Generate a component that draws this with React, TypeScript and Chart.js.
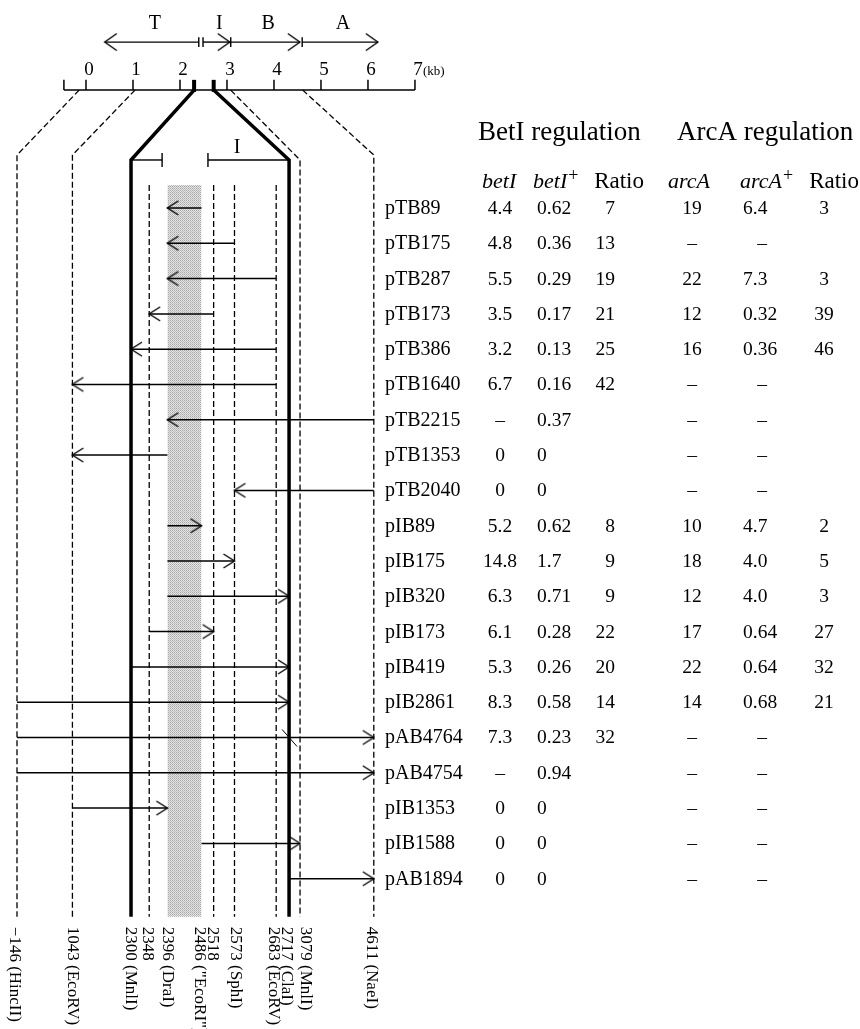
import React, { useEffect, useRef } from "react";
import { Chart, registerables } from "chart.js";

Chart.register(...registerables);

// ---------------- data ----------------
const constructs = [
  "pTB89", "pTB175", "pTB287", "pTB173", "pTB386", "pTB1640", "pTB2215", "pTB1353", "pTB2040",
  "pIB89", "pIB175", "pIB320", "pIB173", "pIB419", "pIB2861", "pAB4764", "pAB4754",
  "pIB1353", "pIB1588", "pAB1894",
];
// fragment start / end (bp); arrow points from start to end
const fragStart = [2486, 2573, 2683, 2518, 2683, 2683, 4611, 2396, 4611, 2396, 2396, 2396, 2348, 2300, -146, -146, -146, 1043, 2486, 2717];
const fragEnd = [2396, 2396, 2396, 2348, 2300, 1043, 2396, 1043, 2573, 2486, 2573, 2717, 2518, 2717, 2717, 4611, 4611, 2396, 3079, 4611];

const betIMinus = ["4.4", "4.8", "5.5", "3.5", "3.2", "6.7", "–", "0", "0", "5.2", "14.8", "6.3", "6.1", "5.3", "8.3", "7.3", "–", "0", "0", "0"];
const betIPlus = ["0.62", "0.36", "0.29", "0.17", "0.13", "0.16", "0.37", "0", "0", "0.62", "1.7", "0.71", "0.28", "0.26", "0.58", "0.23", "0.94", "0", "0", "0"];
const betIRatio = ["7", "13", "19", "21", "25", "42", "", "", "", "8", "9", "9", "22", "20", "14", "32", "", "", "", ""];
const arcAMinus = ["19", "–", "22", "12", "16", "–", "–", "–", "–", "10", "18", "12", "17", "22", "14", "–", "–", "–", "–", "–"];
const arcAPlus = ["6.4", "–", "7.3", "0.32", "0.36", "–", "–", "–", "–", "4.7", "4.0", "4.0", "0.64", "0.64", "0.68", "–", "–", "–", "–", "–"];
const arcARatio = ["3", "", "3", "39", "46", "", "", "", "", "2", "5", "3", "27", "32", "21", "", "", "", "", ""];

// restriction sites (bp)
const siteBp = [-146, 1043, 2300, 2348, 2396, 2486, 2518, 2573, 2683, 2717, 3079, 4611];
const siteLabel = ["−146 (HincII)", "1043 (EcoRV)", "2300 (MnlI)", "2348", "2396 (DraI)", "2486 (\"EcoRI\")", "2518", "2573 (SphI)", "2683 (EcoRV)", "2717 (ClaI)", "3079 (MnlI)", "4611 (NaeI)"];
const outerSites = [-146, 1043, 3079, 4611];
const thickSites = [2300, 2717];
const innerSites = [2348, 2518, 2573, 2683];
const shadedFrom = 2396;
const shadedTo = 2486;

// overview map (kb)
const kbTicks = [0, 1, 2, 3, 4, 5, 6, 7];
const kbScaleStart = -0.47;
const kbMarks = [2.3, 2.717];
const regionLabels = ["T", "I", "B", "A"];
const regionFrom = [2.4, 2.49, 3.08, 4.6];
const regionTo = [0.4, 3.06, 4.55, 6.21];
const regionBars = [2.4, 2.49, 3.08, 4.6];

// betI bracket (bp)
const betIBracketLeft = [2300, 2382];
const betIBracketRight = [2503, 2717];
const betIBracketLabelAt = 2580;

// ---------------- layout (axis units) ----------------
const SERIF = '"Liberation Serif", "Times New Roman", serif';
const X_MIN = 1954.3;
const X_MAX = 4223.4;
const Y_MIN = -5.892;
const Y_MAX = 23.258;
const Y_REGION = -4.7;
const Y_TICKTOP = -3.63;
const Y_SCALE = -3.34;
const Y_OUTER_BEND = -1.5;
const Y_THICK_BEND = -1.36;
const Y_INNER_TOP = -0.65;
const Y_BOTTOM = 20.08;
const BAR_H = 0.14;
const BRACKET_H = 0.2;

// broken axis: detail window 2300-2717 at full scale, compressed outside
function bpToU(bp: number): number {
  if (bp < 2300) return 2300 - (2300 - bp) * 0.123;
  if (bp <= 2717) return bp;
  if (bp <= 3079) return 2717 + (bp - 2717) * 0.08;
  return 2746 + (bp - 3079) * 0.127;
}
// overview kb scale
function kbToU(kb: number): number {
  return 2181.2 + kb * 124.0;
}

function makeChevron(len: number, half: number, lw: number): HTMLCanvasElement {
  const size = Math.ceil(Math.max(len, half) * 2 + 6);
  const c = document.createElement("canvas");
  c.width = size;
  c.height = size;
  const g = c.getContext("2d")!;
  const cx = size / 2;
  const cy = size / 2;
  g.strokeStyle = "#000";
  g.lineWidth = lw;
  g.lineCap = "butt";
  g.beginPath();
  g.moveTo(cx - len, cy - half);
  g.lineTo(cx, cy);
  g.lineTo(cx - len, cy + half);
  g.stroke();
  return c;
}

function makeStipple(ctx: CanvasRenderingContext2D): CanvasPattern | string {
  const c = document.createElement("canvas");
  c.width = 2;
  c.height = 2;
  const g = c.getContext("2d")!;
  g.fillStyle = "#e4e4e4";
  g.fillRect(0, 0, 2, 2);
  g.fillStyle = "#a8a8a8";
  g.fillRect(0, 0, 1, 1);
  g.fillStyle = "#bebebe";
  g.fillRect(1, 1, 1, 1);
  return ctx.createPattern(c, "repeat") || "#cccccc";
}

const seg = (pts: { x: number; y: number }[], opts: any = {}) => ({
  type: "scatter" as const,
  data: pts,
  showLine: true,
  borderColor: "#000",
  backgroundColor: "#000",
  borderWidth: 1.4,
  pointRadius: 0,
  pointHoverRadius: 0,
  fill: false,
  tension: 0,
  clip: false,
  ...opts,
});

const textPlugin = {
  id: "diagramText",
  beforeDraw(chart: any) {
    const { ctx, width, height } = chart;
    ctx.save();
    ctx.fillStyle = "#fff";
    ctx.fillRect(0, 0, width, height);
    ctx.restore();
  },
  afterDatasetsDraw(chart: any) {
    const { ctx } = chart;
    const xs = chart.scales.x;
    const ys = chart.scales.y;
    const px = (bp: number) => xs.getPixelForValue(bpToU(bp));
    const pk = (kb: number) => xs.getPixelForValue(kbToU(kb));
    const py = (r: number) => ys.getPixelForValue(r);
    ctx.save();
    ctx.fillStyle = "#000";
    ctx.textBaseline = "alphabetic";

    // region labels
    ctx.font = `20px ${SERIF}`;
    ctx.textAlign = "center";
    regionLabels.forEach((l, i) => {
      ctx.fillText(l, pk((regionFrom[i] + regionTo[i]) / 2) + 3, py(Y_REGION) - 13);
    });

    // kb tick labels
    ctx.font = `19px ${SERIF}`;
    kbTicks.forEach((k) => ctx.fillText(String(k), pk(k) + 3, py(Y_SCALE) - 15));
    ctx.font = `13px ${SERIF}`;
    ctx.textAlign = "left";
    ctx.fillText("(kb)", pk(7) + 8, py(Y_SCALE) - 15);

    // betI bracket label
    ctx.font = `20px ${SERIF}`;
    ctx.textAlign = "center";
    ctx.fillText("I", px(betIBracketLabelAt), py(Y_THICK_BEND) - 7);

    // break mark on pAB4764
    ctx.strokeStyle = "#000";
    ctx.lineWidth = 1;
    ctx.beginPath();
    const bx = px(2717);
    const by = py(15);
    ctx.moveTo(bx - 7, by - 8);
    ctx.lineTo(bx + 8, by + 9);
    ctx.stroke();

    // headers
    ctx.textAlign = "left";
    ctx.font = `27px ${SERIF}`;
    ctx.fillText("BetI regulation", 478, 140);
    ctx.fillText("ArcA regulation", 677, 140);

    const sub = (base: string, x: number, y: number, sup: boolean) => {
      ctx.font = `italic 22px ${SERIF}`;
      ctx.textAlign = "left";
      ctx.fillText(base, x, y);
      if (sup) {
        const w = ctx.measureText(base).width;
        ctx.font = `18px ${SERIF}`;
        ctx.fillText("+", x + w + 1, y - 7);
      }
    };
    sub("betI", 482, 188, false);
    sub("betI", 533, 188, true);
    sub("arcA", 668, 188, false);
    sub("arcA", 740, 188, true);
    ctx.font = `23px ${SERIF}`;
    ctx.textAlign = "right";
    ctx.fillText("Ratio", 644, 188);
    ctx.fillText("Ratio", 859, 188);

    // rows
    constructs.forEach((name, i) => {
      const y = py(i) + 6;
      ctx.font = `20px ${SERIF}`;
      ctx.textAlign = "left";
      ctx.fillText(name, 385, y);
      ctx.font = `19.5px ${SERIF}`;
      ctx.textAlign = "center";
      ctx.fillText(betIMinus[i], 500, y);
      if (betIPlus[i] === "–") {
        ctx.fillText("–", 552, y);
      } else {
        ctx.textAlign = "left";
        ctx.fillText(betIPlus[i], 537, y);
      }
      ctx.textAlign = "right";
      if (betIRatio[i]) ctx.fillText(betIRatio[i], 615, y);
      ctx.textAlign = "center";
      ctx.fillText(arcAMinus[i], 692, y);
      if (arcAPlus[i] === "–") {
        ctx.fillText("–", 762, y);
      } else {
        ctx.textAlign = "left";
        ctx.fillText(arcAPlus[i], 743, y);
      }
      ctx.textAlign = "center";
      if (arcARatio[i]) ctx.fillText(arcARatio[i], 824, y);
    });

    // site labels (rotated)
    ctx.font = `17px ${SERIF}`;
    ctx.textAlign = "left";
    ctx.textBaseline = "middle";
    const nudge = [-3, 0, -1, -2, 0, -2, -1, 1, -3, -3, 5, -2];
    siteBp.forEach((bp, i) => {
      ctx.save();
      ctx.translate(px(bp) + nudge[i], py(Y_BOTTOM) + 10);
      ctx.rotate(Math.PI / 2);
      ctx.fillText(siteLabel[i], 0, 0);
      ctx.restore();
    });
    ctx.restore();
  },
};

export default function App() {
  const ref = useRef<HTMLCanvasElement>(null);
  useEffect(() => {
    const canvas = ref.current!;
    const ctx2d = canvas.getContext("2d")!;
    const chevSmall = makeChevron(11, 7, 1.4);
    const chevBig = makeChevron(12, 8.5, 1.4);
    const stipple = makeStipple(ctx2d);

    const datasets: any[] = [];

    // shaded region
    datasets.push(
      seg(
        [
          { x: bpToU(shadedFrom), y: Y_INNER_TOP },
          { x: bpToU(shadedTo), y: Y_INNER_TOP },
        ],
        { borderWidth: 0, borderColor: "rgba(0,0,0,0)", fill: { value: Y_BOTTOM }, backgroundColor: stipple, order: 10 }
      )
    );

    // overview scale
    datasets.push(seg([{ x: kbToU(kbScaleStart), y: Y_SCALE }, { x: kbToU(7), y: Y_SCALE }], { borderWidth: 1.5 }));
    [kbScaleStart, ...kbTicks].forEach((k) =>
      datasets.push(seg([{ x: kbToU(k), y: Y_SCALE }, { x: kbToU(k), y: Y_TICKTOP }], { borderWidth: 1.5 }))
    );
    kbMarks.forEach((k) =>
      datasets.push(seg([{ x: kbToU(k), y: Y_SCALE + 0.05 }, { x: kbToU(k), y: Y_TICKTOP }], { borderWidth: 4 }))
    );

    // region arrows
    regionLabels.forEach((_, i) => {
      datasets.push(
        seg(
          [
            { x: kbToU(regionFrom[i]), y: Y_REGION },
            { x: kbToU(regionTo[i]), y: Y_REGION },
          ],
          {
            borderWidth: 1.4,
            pointStyle: ["circle", chevBig],
            pointRadius: [0, 6],
            rotation: regionTo[i] < regionFrom[i] ? 180 : 0,
          }
        )
      );
    });
    regionBars.forEach((k) =>
      datasets.push(seg([{ x: kbToU(k), y: Y_REGION - BAR_H }, { x: kbToU(k), y: Y_REGION + BAR_H }], { borderWidth: 1.4 }))
    );

    // connectors + vertical site lines
    outerSites.forEach((bp) => {
      const bend = bp === 3079 ? Y_THICK_BEND : Y_OUTER_BEND;
      datasets.push(
        seg(
          [
            { x: kbToU(bp / 1000), y: Y_SCALE },
            { x: bpToU(bp), y: bend },
            { x: bpToU(bp), y: Y_BOTTOM },
          ],
          { borderWidth: 1.3, borderDash: [6, 3] }
        )
      );
    });
    thickSites.forEach((bp) => {
      datasets.push(
        seg(
          [
            { x: kbToU(bp / 1000), y: Y_SCALE },
            { x: bpToU(bp), y: Y_THICK_BEND },
            { x: bpToU(bp), y: Y_BOTTOM },
          ],
          { borderWidth: 3.5, borderJoinStyle: "miter" }
        )
      );
    });
    innerSites.forEach((bp) => {
      datasets.push(
        seg(
          [
            { x: bpToU(bp), y: Y_INNER_TOP },
            { x: bpToU(bp), y: Y_BOTTOM },
          ],
          { borderWidth: 1.3, borderDash: [6, 3] }
        )
      );
    });

    // betI bracket
    datasets.push(seg([{ x: bpToU(betIBracketLeft[0]), y: Y_THICK_BEND }, { x: bpToU(betIBracketLeft[1]), y: Y_THICK_BEND }], { borderWidth: 1.4 }));
    datasets.push(seg([{ x: bpToU(betIBracketLeft[1]), y: Y_THICK_BEND - BRACKET_H }, { x: bpToU(betIBracketLeft[1]), y: Y_THICK_BEND + BRACKET_H }], { borderWidth: 1.4 }));
    datasets.push(seg([{ x: bpToU(betIBracketRight[0]), y: Y_THICK_BEND }, { x: bpToU(betIBracketRight[1]), y: Y_THICK_BEND }], { borderWidth: 1.4 }));
    datasets.push(seg([{ x: bpToU(betIBracketRight[0]), y: Y_THICK_BEND - BRACKET_H }, { x: bpToU(betIBracketRight[0]), y: Y_THICK_BEND + BRACKET_H }], { borderWidth: 1.4 }));

    // construct arrows
    constructs.forEach((_, i) => {
      datasets.push(
        seg(
          [
            { x: bpToU(fragStart[i]), y: i },
            { x: bpToU(fragEnd[i]), y: i },
          ],
          {
            borderWidth: 1.5,
            pointStyle: ["circle", chevSmall],
            pointRadius: [0, 5],
            rotation: fragEnd[i] < fragStart[i] ? 180 : 0,
          }
        )
      );
    });

    const chart = new Chart(canvas, {
      type: "scatter",
      data: { datasets },
      options: {
        responsive: false,
        animation: false,
        devicePixelRatio: 1,
        layout: { padding: 0, autoPadding: false },
        events: [],
        scales: {
          x: { type: "linear", min: X_MIN, max: X_MAX, display: false },
          y: { type: "linear", min: Y_MIN, max: Y_MAX, reverse: true, display: false },
        },
        plugins: { legend: { display: false }, tooltip: { enabled: false } },
      },
      plugins: [textPlugin],
    } as any);
    return () => chart.destroy();
  }, []);

  return (
    <div style={{ position: "absolute", left: 0, top: 0, width: 860, height: 1029, background: "#fff" }}>
      <canvas ref={ref} width={860} height={1029} style={{ display: "block", width: 860, height: 1029 }} />
    </div>
  );
}
